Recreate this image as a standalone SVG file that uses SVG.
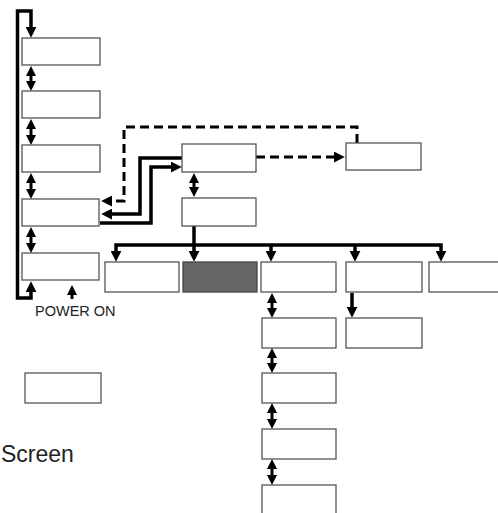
<svg xmlns="http://www.w3.org/2000/svg" width="498" height="513" viewBox="0 0 498 513">
<style>
.box{fill:#fff;stroke:#555;stroke-width:1.3}
.dark{fill:#666;stroke:#444;stroke-width:1.3}
.ln{fill:none;stroke:#000;stroke-width:3.5}
.thin{fill:none;stroke:#000;stroke-width:3}
.dash{fill:none;stroke:#000;stroke-width:3;stroke-dasharray:9,5}
.lbl{font-family:"Liberation Sans",Arial,sans-serif;fill:#222}
</style>
<defs>
<marker id="ah" viewBox="0 0 10 10" refX="2" refY="5" markerWidth="11" markerHeight="11" markerUnits="userSpaceOnUse" orient="auto-start-reverse">
<path d="M0,0 L10,5 L0,10 z" fill="#000"/>
</marker>
<marker id="as" viewBox="0 0 10 10" refX="2" refY="5" markerWidth="10" markerHeight="10" markerUnits="userSpaceOnUse" orient="auto-start-reverse">
<path d="M0,0 L10,5 L0,10 z" fill="#000"/>
</marker>
</defs>
<rect width="498" height="513" fill="#fff"/>
<g id="connectors">
<path class="ln" d="M31,290 L31,298 L17.5,298 L17.5,11 L31,11 L31,29" marker-start="url(#ah)" marker-end="url(#ah)"/>
<path class="thin" d="M31,74 L31,83" marker-start="url(#as)" marker-end="url(#as)"/>
<path class="thin" d="M31,127 L31,137" marker-start="url(#as)" marker-end="url(#as)"/>
<path class="thin" d="M31,181 L31,191" marker-start="url(#as)" marker-end="url(#as)"/>
<path class="thin" d="M31,235 L31,245" marker-start="url(#as)" marker-end="url(#as)"/>
<path class="thin" d="M72,299 L72,293" marker-end="url(#as)"/>
<path class="dash" d="M357,143 L357,127 L124,127 L124,201 L110,201" marker-end="url(#ah)"/>
<path class="dash" d="M256,157 L336,157" marker-end="url(#ah)"/>
<path class="ln" d="M182,158 L140,158 L140,214 L110,214" marker-end="url(#ah)"/>
<path class="ln" d="M100,223 L151,223 L151,167 L173,167" marker-end="url(#ah)"/>
<path class="thin" d="M194,181 L194,189" marker-start="url(#as)" marker-end="url(#as)"/>
<path class="ln" d="M116,253 L116,245 L441,245 L441,253" marker-start="url(#ah)" marker-end="url(#ah)"/>
<path class="ln" d="M194,226 L194,253" marker-end="url(#ah)"/>
<path class="ln" d="M271,245 L271,253" marker-end="url(#ah)"/>
<path class="ln" d="M355,245 L355,253" marker-end="url(#ah)"/>
<path class="thin" d="M272,301 L272,310" marker-start="url(#as)" marker-end="url(#as)"/>
<path class="thin" d="M272,356 L272,365" marker-start="url(#as)" marker-end="url(#as)"/>
<path class="thin" d="M272,411 L272,421" marker-start="url(#as)" marker-end="url(#as)"/>
<path class="thin" d="M272,467 L272,477" marker-start="url(#as)" marker-end="url(#as)"/>
<path class="ln" d="M352,293 L352,309" marker-end="url(#ah)"/>
</g>
<g id="n1"><rect class="box" x="22" y="38" width="78" height="27"/></g>
<g id="n2"><rect class="box" x="22" y="91" width="78" height="27"/></g>
<g id="n3"><rect class="box" x="22" y="145" width="78" height="27"/></g>
<g id="n4"><rect class="box" x="22" y="199" width="77" height="27"/></g>
<g id="n5"><rect class="box" x="22" y="253" width="77" height="27"/></g>
<g id="nA"><rect class="box" x="182" y="144" width="74" height="28"/></g>
<g id="nB"><rect class="box" x="182" y="198" width="74" height="28"/></g>
<g id="nR"><rect class="box" x="346" y="143" width="75" height="27"/></g>
<g id="r1"><rect class="box" x="105" y="262" width="74" height="30"/></g>
<g id="r2"><rect class="dark" x="183" y="262" width="74" height="30"/></g>
<g id="r3"><rect class="box" x="261" y="262" width="75" height="30"/></g>
<g id="r4"><rect class="box" x="346" y="262" width="76" height="30"/></g>
<g id="r5"><rect class="box" x="429" y="262" width="80" height="30"/></g>
<g id="c1"><rect class="box" x="262" y="318" width="74" height="30"/></g>
<g id="c2"><rect class="box" x="262" y="373" width="74" height="30"/></g>
<g id="c3"><rect class="box" x="262" y="429" width="74" height="30"/></g>
<g id="c4"><rect class="box" x="262" y="485" width="74" height="32"/></g>
<g id="d1"><rect class="box" x="346" y="318" width="76" height="30"/></g>
<g id="legend"><rect class="box" x="25" y="373" width="76" height="30"/></g>
<text class="lbl" x="35" y="315.5" font-size="14.5">POWER ON</text>
<text class="lbl" x="1" y="461.5" font-size="23">Screen</text>
</svg>
